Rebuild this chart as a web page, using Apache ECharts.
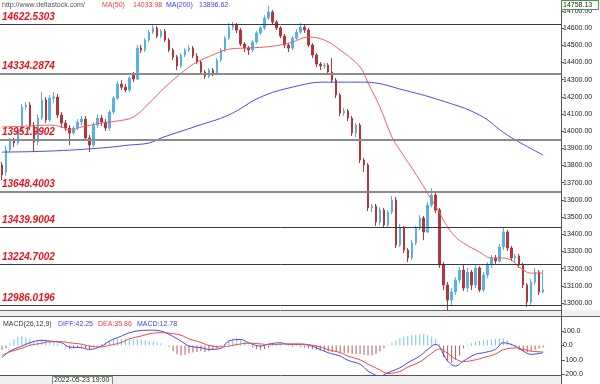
<!DOCTYPE html>
<html><head><meta charset="utf-8">
<script src="https://cdn.jsdelivr.net/npm/echarts@6/dist/echarts.min.js"></script>
<style>html,body{margin:0;padding:0;background:#fff}#c{width:600px;height:384px}</style>
</head><body><div id="c"></div>
<script>
// ---- data ----
const slotCount = 141; // candles + empty slots on the right
const categories = Array.from({length: slotCount}, (_, i) => String(i));
// [open, close, low, high]
const ohlc = [
[13803,13745,13715,13820],[13762,13890,13739,13913],[13890,13942,13878,13960],[13942,13931,13907,13960],
[13931,14006,13919,14024],[14006,14140,13995,14158],[14140,14152,14123,14169],[14152,14030,14006,14169],
[14030,13937,13878,14053],[13937,14076,13919,14094],[14076,14181,14065,14227],[14181,14065,14047,14198],
[14065,14192,14053,14210],[14192,14198,14163,14227],[14198,14094,14076,14216],[14094,14047,14018,14111],
[14047,14018,14000,14065],[14018,13989,13919,14035],[13989,14018,13977,14030],[14018,14053,14006,14070],
[14053,14070,14035,14088],[14070,13960,13942,14088],[13960,13919,13878,13977],[13919,14035,13907,14053],
[14035,14076,14018,14099],[14076,14053,14030,14094],[14053,14018,14000,14070],[14018,14111,14000,14123],
[14111,14192,14099,14204],[14192,14274,14181,14291],[14274,14256,14239,14297],[14256,14239,14227,14274],
[14239,14309,14227,14320],[14332,14303,14285,14344],[14303,14483,14297,14501],[14483,14472,14454,14501],
[14472,14530,14460,14541],[14530,14576,14518,14588],[14576,14600,14565,14617],[14600,14553,14541,14611],
[14553,14582,14541,14594],[14582,14530,14518,14594],[14530,14472,14460,14541],[14472,14431,14413,14483],
[14431,14379,14355,14443],[14379,14443,14367,14454],[14443,14472,14431,14483],[14472,14483,14460,14501],
[14483,14437,14425,14495],[14437,14402,14390,14454],[14402,14344,14332,14414],[14344,14320,14303,14355],
[14320,14355,14309,14367],[14355,14338,14320,14367],[14338,14414,14326,14425],[14414,14472,14402,14483],
[14472,14541,14460,14553],[14541,14605,14530,14629],[14605,14617,14588,14635],[14617,14588,14571,14629],
[14588,14507,14495,14600],[14507,14483,14460,14518],[14483,14472,14443,14495],[14472,14518,14460,14530],
[14518,14571,14507,14582],[14571,14600,14559,14611],[14600,14658,14588,14675],[14658,14693,14646,14728],
[14693,14635,14617,14704],[14635,14600,14588,14646],[14600,14553,14541,14611],[14553,14501,14483,14565],
[14501,14483,14460,14512],[14483,14541,14472,14553],[14541,14576,14530,14594],[14576,14605,14565,14629],
[14605,14588,14571,14623],[14588,14501,14489,14600],[14501,14443,14425,14512],[14443,14390,14373,14454],
[14390,14379,14355,14402],[14379,14384,14361,14396],[14384,14344,14332,14396],[14344,14297,14280,14425],
[14297,14210,14192,14309],[14210,14105,14088,14221],[14105,14117,14088,14134],[14117,14076,14059,14128],
[14076,13989,13971,14088],[13989,14035,13966,14047],[14035,13832,13814,14047],[13832,13803,13762,13843],
[13803,13553,13535,13814],[13553,13564,13529,13576],[13564,13471,13448,13576],[13471,13541,13454,13558],
[13541,13454,13436,13553],[13454,13529,13442,13541],[13529,13599,13518,13622],[13599,13337,13320,13616],
[13337,13436,13326,13459],[13436,13308,13291,13448],[13308,13262,13238,13320],[13262,13349,13250,13366],
[13349,13436,13337,13448],[13436,13494,13425,13512],[13494,13413,13366,13506],[13413,13570,13407,13587],
[13570,13628,13558,13669],[13628,13541,13523,13640],[13541,13221,13204,13553],[13221,13105,13076,13238],
[13105,13017,12959,13122],[13017,13064,12988,13087],[13064,13134,13047,13151],[13134,13192,13116,13209],
[13192,13087,13070,13221],[13087,13180,13064,13204],[13180,13105,13076,13192],[13105,13204,13087,13227],
[13204,13076,13064,13215],[13076,13163,13064,13180],[13163,13221,13145,13238],[13221,13262,13204,13279],
[13262,13244,13227,13279],[13244,13326,13233,13343],[13326,13413,13308,13436],[13413,13320,13302,13425],
[13320,13262,13244,13331],[13262,13273,13238,13285],[13273,13221,13204,13285],[13221,13105,13087,13233],
[13105,13006,12977,13116],[13006,13122,12988,13140],[13122,13180,13105,13204],[13180,13064,13047,13192],
[13064,13078.54,13058,13192]
];
// moving averages, sampled [candle index, value]
const ma50 = [[0,14024],[7,14030],[12,14035],[15,14024],[17,14006],[20,14024],[25,14047],[29,14059],[33,14082],
[37,14163],[41,14256],[46,14355],[49,14402],[53,14443],[57,14477],[61,14483],[66,14489],[70,14501],[73,14518],
[77,14547],[81,14530],[85,14472],[90,14373],[92,14280],[95,14140],[98,13966],[100,13890],[105,13715],[108,13599],
[110,13524],[112,13442],[114,13384],[116,13349],[120,13297],[123,13262],[125,13262],[128,13250],[130,13209],
[133,13174],[136,13174]];
const ma200 = [[0,13878],[12,13884],[25,13902],[32,13919],[37,13931],[40,13960],[49,14030],[57,14094],[65,14198],
[73,14256],[81,14285],[90,14285],[94,14280],[100,14245],[110,14181],[120,14094],[127,13977],[136,13861]];
// MACD(26,12,9)
const diffLine = [[0,-85],[2,-40],[5,-5],[7,18],[10,35],[12,30],[15,18],[17,-12],[20,-16],[22,-28],[25,-5],[27,30],
[30,64],[32,87],[35,103],[37,105],[40,99],[42,76],[45,30],[47,-5],[50,-16],[52,-28],[55,-21],[57,30],[60,41],[62,18],
[65,-5],[67,9],[70,18],[72,7],[75,7],[77,2],[80,-28],[82,-51],[85,-74],[87,-104],[90,-131],[92,-177],[95,-212],
[97,-189],[100,-155],[102,-120],[105,-74],[107,-28],[109,7],[112,-108],[114,-143],[116,-108],[119,-62],[121,-51],
[124,-28],[126,18],[129,-5],[131,-39],[133,-62],[136,-51]];
const deaLine = [[0,-70],[2,-45],[5,-20],[7,0],[10,15],[12,25],[15,25],[17,18],[20,8],[22,-5],[25,-10],[27,0],[30,20],
[32,45],[35,65],[37,80],[40,88],[42,85],[45,70],[47,45],[50,20],[52,0],[55,-10],[57,-5],[60,10],[62,15],[65,10],[67,5],
[70,8],[72,10],[75,10],[77,5],[80,-10],[82,-30],[85,-50],[87,-75],[90,-100],[92,-130],[95,-170],[97,-195],[100,-180],
[102,-150],[105,-115],[107,-75],[109,-35],[110,-25],[112,-55],[114,-95],[116,-112],[119,-100],[121,-85],[124,-60],
[126,-30],[129,-18],[131,-28],[133,-40],[136,-46]];
const macdHist = [-30,-20, 15,40,60,65,55,45, 30,35,40,30,25,20,15, 5,-10,-25,-20,-15,-10,-20,-25,-10,5,
10,20,30,40,45,48,45,40,42,45,40,35,30, 25,20,15,5,-10, -40,-60,-70,-65,-55,-50,-45, -40,-45,-40,-30,-20,-5,10,
30,45,50,40,25, 5,-15,-25,-30,-25, -15,5,10,15,5,-5,-10,-5, -10,-15,-20,-25,-30, -35,-40,-40,-45,-45,-50,
-55,-55,-60,-60,-60,-65,-70,-70,-60, -40,-20,5, 20,35,50,60,65,70,72, 75,80,70,60,45, 10,-80,-110,-120,-100,-70,
-20,5, 15,25,30,35,35,40,45,50, 50,35, 15,-10,-30,-40,-45,-40,-30,-20,-15];
const levels = [14622.5303, 14334.2874, 13951.9902, 13648.4003, 13439.9004, 13224.7002, 12986.0196];
const headerMA = {ma50: '14033.98', ma200: '13896.62'};
const macdHeader = {diff: '42.25', dea: '35.86', macd: '12.78'};
const topPriceLabel = '14758.13';
const cursorTime = '2022-05-23 19:00';

// ---- chart ----
const FONT = 'Liberation Sans, Arial, sans-serif';
const UP = '#55b2e4', DOWN = '#b3363a';
const chart = echarts.init(document.getElementById('c'), null, {renderer: 'canvas'});
const thickLevels = [1, 2, 3];
const lastClose = ohlc[ohlc.length - 1][1];

const opt = {
  animation: false,
  backgroundColor: '#ffffff',
  grid: [
    {left: 0, right: 39, top: 0, height: 320.2, outerBoundsMode: 'none', containLabel: false},
    {left: 0, right: 39, top: 316.5, height: 72.2, outerBoundsMode: 'none', containLabel: false}
  ],
  xAxis: [
    {type: 'category', data: categories, gridIndex: 0, boundaryGap: true,
     axisLine: {show: false}, axisTick: {show: false}, axisLabel: {show: false}, splitLine: {show: false}},
    {type: 'category', data: categories, gridIndex: 1, boundaryGap: true,
     axisLine: {show: false}, axisTick: {show: false}, axisLabel: {show: false}, splitLine: {show: false}}
  ],
  yAxis: [
    {type: 'value', gridIndex: 0, position: 'right', min: 12900, max: 14762.9, interval: 100,
     axisLine: {show: true, lineStyle: {color: '#555', width: 1}},
     axisTick: {show: true, length: 3, lineStyle: {color: '#555'}},
     axisLabel: {fontSize: 7, color: '#222', margin: 2, fontFamily: FONT, showMinLabel: false, showMaxLabel: false,
       formatter: v => v.toFixed(2)},
     splitLine: {show: false}},
    {type: 'value', gridIndex: 1, position: 'right', min: -300, max: 200, interval: 100,
     axisLine: {show: true, lineStyle: {color: '#555', width: 1}},
     axisTick: {show: true, length: 3, lineStyle: {color: '#555'}},
     axisLabel: {fontSize: 7, color: '#222', margin: 2, fontFamily: FONT, showMinLabel: false, showMaxLabel: false,
       formatter: v => v.toFixed(1)},
     splitLine: {show: false}}
  ],
  series: [
    {type: 'candlestick', xAxisIndex: 0, yAxisIndex: 0, data: ohlc, barWidth: 2,
     itemStyle: {color: UP, color0: DOWN, borderColor: UP, borderColor0: DOWN, borderWidth: 1},
     markLine: {
       symbol: 'none', silent: true, animation: false,
       data: levels.map((v, k) => ({
         yAxis: v,
         lineStyle: {type: 'solid', color: thickLevels.includes(k) ? '#8c8c8c' : '#3a3a3a', width: thickLevels.includes(k) ? 2 : 1},
         label: {show: true, position: 'insideStartTop', distance: [2, 2], formatter: v.toFixed(4),
           color: '#e8141c', fontSize: 10, fontWeight: 'bold', fontStyle: 'italic', fontFamily: FONT}
       })).concat([{
         yAxis: lastClose,
         lineStyle: {opacity: 0},
         label: {show: true, position: 'end', distance: 1, formatter: lastClose.toFixed(2), color: '#000',
           fontSize: 7, fontFamily: FONT, backgroundColor: '#8fd4f5', borderColor: '#4aa6d6', borderWidth: 1,
           padding: [1, 3, 0, 3], width: 30}
       }])
     }},
    {type: 'line', xAxisIndex: 0, yAxisIndex: 0, data: ma50, smooth: 0.4, showSymbol: false,
     lineStyle: {color: '#f26060', width: 1}, z: 3},
    {type: 'line', xAxisIndex: 0, yAxisIndex: 0, data: ma200, smooth: 0.4, showSymbol: false,
     lineStyle: {color: '#4a4af0', width: 1}, z: 3},
    {type: 'bar', xAxisIndex: 1, yAxisIndex: 1, barWidth: 1,
     data: macdHist.map(v => ({value: v, itemStyle: {color: v >= 0 ? '#74c2e6' : '#b65c5c'}}))},
    {type: 'line', xAxisIndex: 1, yAxisIndex: 1, data: diffLine, smooth: 0.4, showSymbol: false,
     lineStyle: {color: '#4646f0', width: 1}, z: 3},
    {type: 'line', xAxisIndex: 1, yAxisIndex: 1, data: deaLine, smooth: 0.4, showSymbol: false,
     lineStyle: {color: '#f04646', width: 1}, z: 3}
  ],
  graphic: [
    // separator between panels
    {type: 'rect', shape: {x: 0, y: 310, width: 600, height: 6}, style: {fill: '#f0f0f0'}, z: 100},
    {type: 'line', shape: {x1: 0, y1: 310.5, x2: 561, y2: 310.5}, style: {stroke: '#666', lineWidth: 1}, z: 101},
    {type: 'line', shape: {x1: 0, y1: 316.5, x2: 600, y2: 316.5}, style: {stroke: '#666', lineWidth: 1}, z: 101},
    // bottom band
    {type: 'rect', shape: {x: 0, y: 375, width: 561, height: 9}, style: {fill: '#f0f0f0'}, z: 100},
    {type: 'line', shape: {x1: 0, y1: 375.5, x2: 561, y2: 375.5}, style: {stroke: '#555', lineWidth: 1}, z: 101},
    {type: 'line', shape: {x1: 561.5, y1: 310, x2: 561.5, y2: 384}, style: {stroke: '#555', lineWidth: 1}, z: 101},
    {type: 'rect', shape: {x: 52.5, y: 376.5, width: 60, height: 8}, style: {fill: '#fff', stroke: '#6a9a6a', lineWidth: 1}, z: 102},
    {type: 'text', x: 54, y: 377, style: {text: cursorTime, fontSize: 7, fontFamily: FONT, fill: '#222'}, z: 103},
    // top price box
    {type: 'rect', shape: {x: 561.5, y: 0.5, width: 37, height: 9}, style: {fill: '#fff', stroke: '#3c9a3c', lineWidth: 1}, z: 102},
    {type: 'text', x: 563, y: 1.5, style: {text: topPriceLabel, fontSize: 7, fontFamily: FONT, fill: '#222'}, z: 103},
    // header
    {type: 'text', x: 2, y: 2, z: 103, style: {text: 'http://www.deltastock.com/', fontSize: 7, fontFamily: FONT, fill: '#555'}},
    {type: 'text', x: 102, y: 2, z: 103, style: {text: 'MA(50)', fontSize: 7, fontFamily: FONT, fill: '#f03c3c'}},
    {type: 'text', x: 133, y: 2, z: 103, style: {text: headerMA.ma50, fontSize: 7, fontFamily: FONT, fill: '#f03c3c'}},
    {type: 'text', x: 166, y: 2, z: 103, style: {text: 'MA(200)', fontSize: 7, fontFamily: FONT, fill: '#4040f0'}},
    {type: 'text', x: 199, y: 2, z: 103, style: {text: headerMA.ma200, fontSize: 7, fontFamily: FONT, fill: '#4040f0'}},
    // MACD header
    {type: 'text', x: 3, y: 321, z: 103, style: {text: 'MACD(26,12,9)', fontSize: 7, fontFamily: FONT, fill: '#333'}},
    {type: 'text', x: 58, y: 321, z: 103, style: {text: 'DIFF:' + macdHeader.diff, fontSize: 7, fontFamily: FONT, fill: '#4040f0'}},
    {type: 'text', x: 98, y: 321, z: 103, style: {text: 'DEA:' + macdHeader.dea, fontSize: 7, fontFamily: FONT, fill: '#f03c3c'}},
    {type: 'text', x: 137, y: 321, z: 103, style: {text: 'MACD:' + macdHeader.macd, fontSize: 7, fontFamily: FONT, fill: '#4040f0'}}
  ]
};
chart.setOption(opt);
</script></body></html>
